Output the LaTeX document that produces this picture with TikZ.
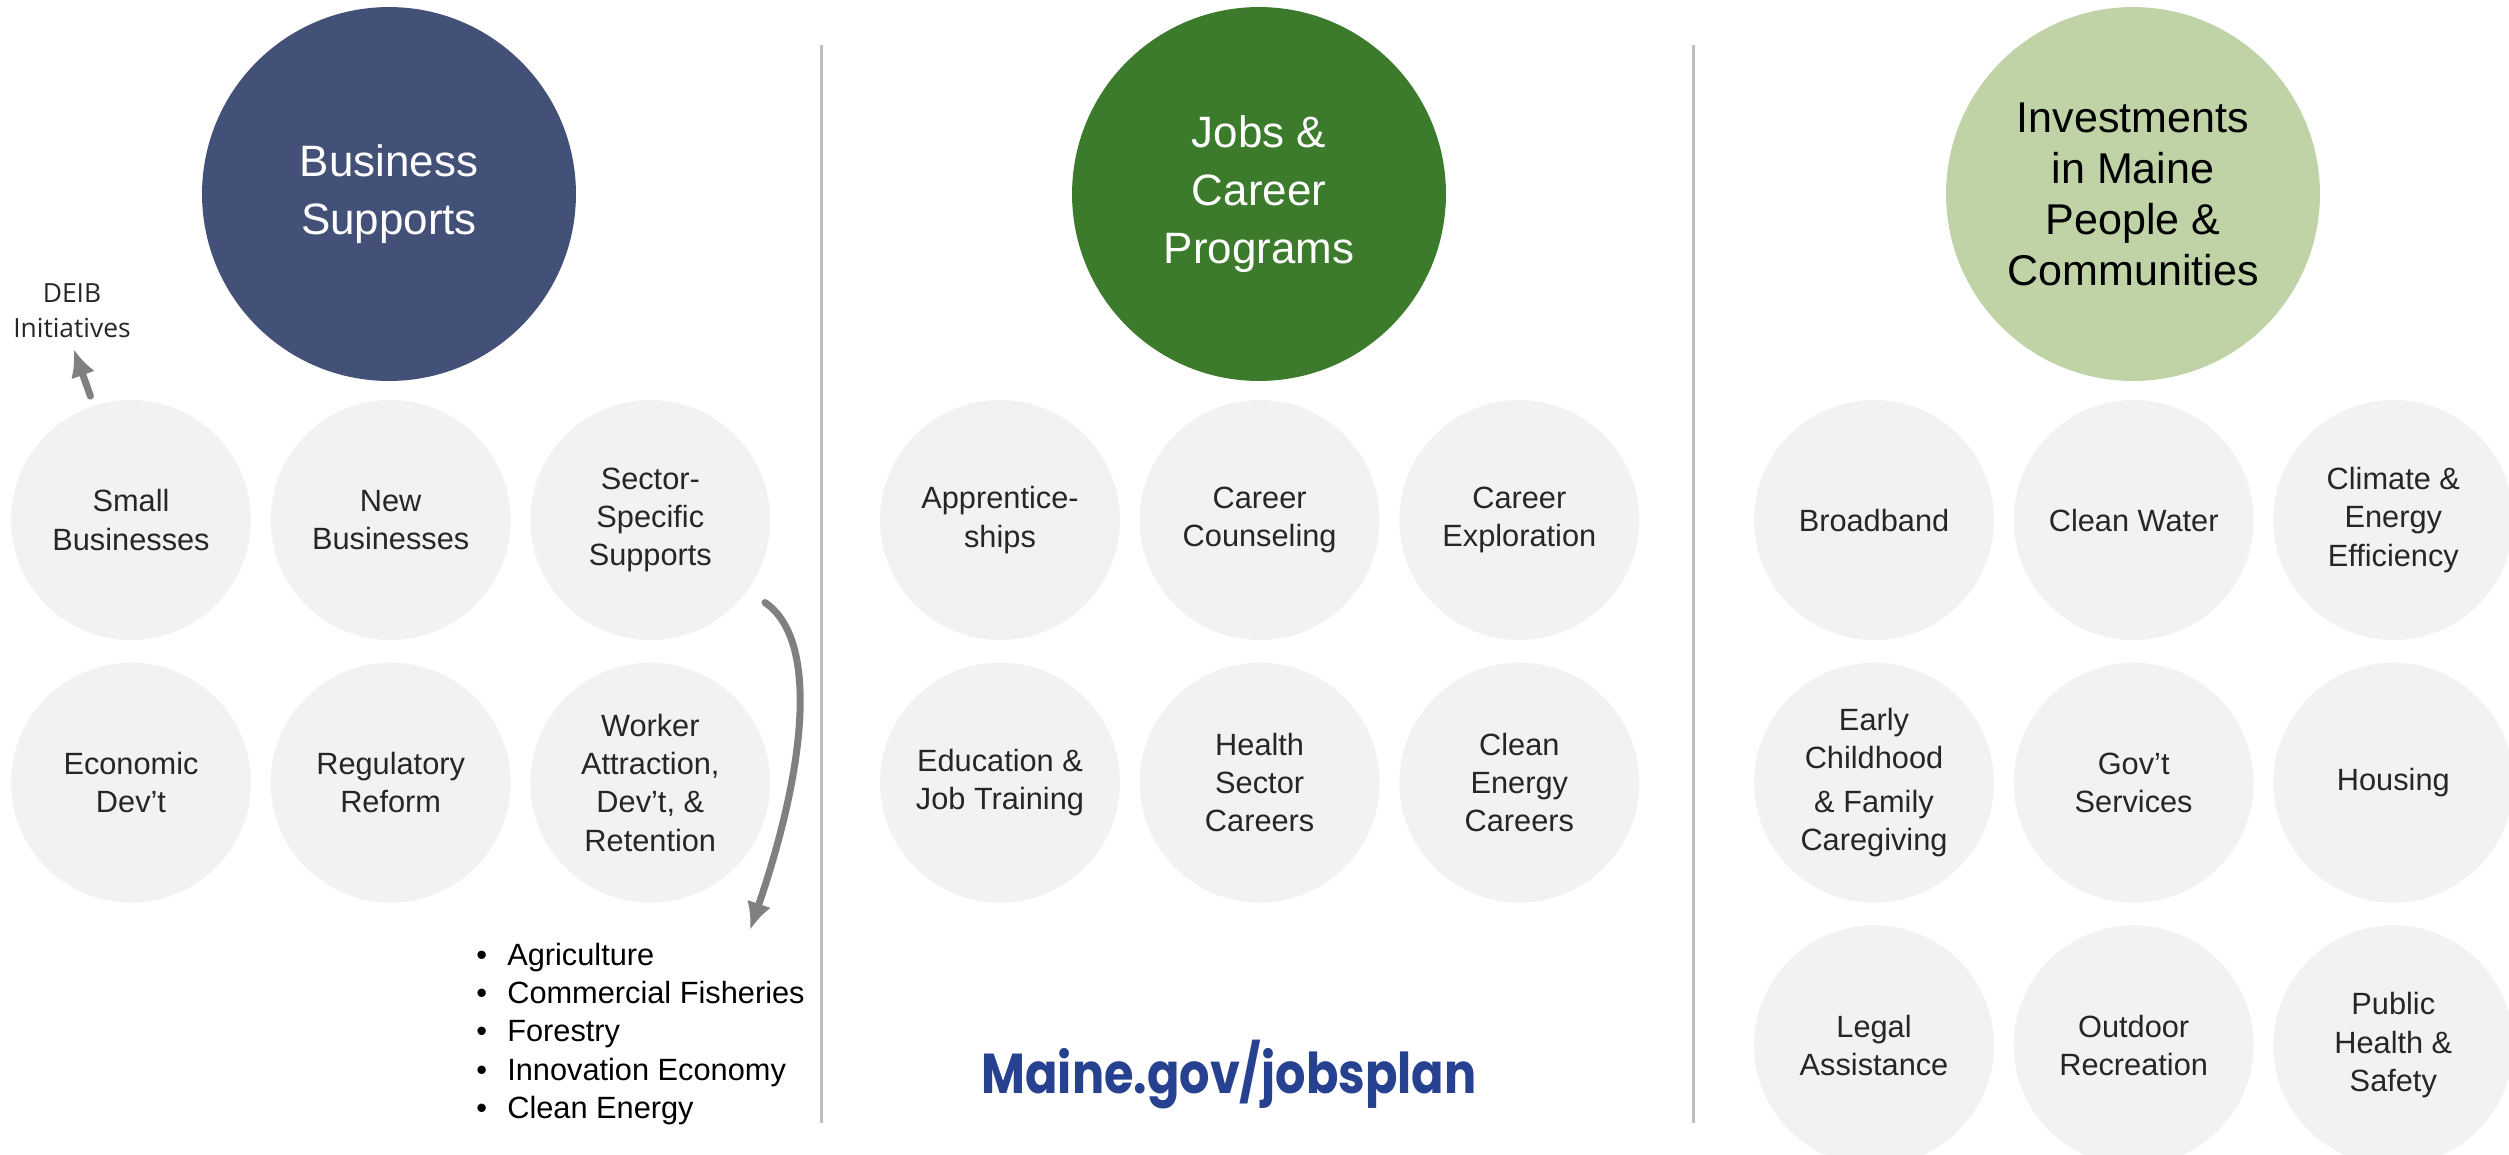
\documentclass[tikz,border=0pt]{standalone}
\usepackage{fontspec}
\setmainfont{Liberation Sans}
\newfontfamily\deibfont{Open Sans}
\newfontfamily\urlfont{Poppins}
\usepackage{xcolor}
\usepackage{graphicx}
\usetikzlibrary{positioning,arrows.meta}
\definecolor{bizblue}{HTML}{435078}
\definecolor{jobgreen}{HTML}{3C7A2C}
\definecolor{investgreen}{HTML}{C0D3A6}
\definecolor{itemgrey}{HTML}{F2F2F2}
\definecolor{itemtext}{HTML}{262626}
\definecolor{divgrey}{HTML}{BFBFBF}
\definecolor{arrowgrey}{HTML}{808080}
\definecolor{urlblue}{HTML}{26418F}

\begin{document}
\begin{tikzpicture}[x=0.02cm, y=-0.02cm, node distance=0.44cm and 0.38cm,%
        bigcirc/.style={circle, minimum size=7.48cm, inner sep=0pt, align=center, font=\fontsize{25}{33}\selectfont},
        item/.style={circle, fill=itemgrey, minimum size=4.8cm, inner sep=0pt, align=center, text=itemtext, font=\fontsize{17.5}{21.8}\selectfont},
        divider/.style={draw=divgrey, line width=1.7pt},
        greyarrow/.style={draw=arrowgrey, line width=4pt, line cap=round, -{Latex[length=0.55cm, width=0.5cm]}}]
        \useasboundingbox (0,0) rectangle (2509,1154);
        \clip (0,0) rectangle (2509,1154);

        % business supports
        \node[bigcirc, fill=bizblue, text=white] (biz) at (389,194) {Business\\Supports};
        \node[item] (small) at (131,520) {Small\\Businesses};
        \node[item, right=of small] (newbiz) {New\\Businesses};
        \node[item, right=of newbiz] (sector) {Sector-\\Specific\\Supports};
        \node[item, below=of small] (econ) {Economic\\Dev’t};
        \node[item, right=of econ] (reform) {Regulatory\\Reform};
        \node[item, right=of reform] (worker) {Worker\\Attraction,\\Dev’t, \&\\Retention};
        \node[font=\deibfont\fontsize{15}{20}\selectfont, text=itemtext, align=center] (deib) at (72,311) {DEIB\\Initiatives};
        \node[anchor=west, align=left, inner sep=0pt, font=\fontsize{17.5}{21.8}\selectfont] (sectors) at (476,1034)
                {\makebox[0.62cm][l]{\textbullet}Agriculture\\
                 \makebox[0.62cm][l]{\textbullet}Commercial Fisheries\\
                 \makebox[0.62cm][l]{\textbullet}Forestry\\
                 \makebox[0.62cm][l]{\textbullet}Innovation Economy\\
                 \makebox[0.62cm][l]{\textbullet}Clean Energy};
        \coordinate (sectortip) at (750,930);
        \draw[greyarrow, shorten <=0.2cm, shorten >=0.1cm] (small.108) -- (deib.south);
        \draw[greyarrow, shorten <=0.42cm] (sector.-36) .. controls (820,640) and (805,770) .. (sectortip);

        % jobs and careers
        \node[bigcirc, fill=jobgreen, text=white] (jobs) at (1259,194) {Jobs \&\\Career\\Programs};
        \node[item] (appr) at (1000,520) {Apprentice-\\ships};
        \node[item, right=of appr] (couns) {Career\\Counseling};
        \node[item, right=of couns] (explore) {Career\\Exploration};
        \node[item, below=of appr] (edu) {Education \&\\Job Training};
        \node[item, right=of edu] (health) {Health\\Sector\\Careers};
        \node[item, right=of health] (cleancar) {Clean\\Energy\\Careers};
        \node[font=\urlfont\bfseries\fontsize{32}{38}\selectfont, text=urlblue] (url) at (1229,1075) {\scalebox{0.85}[1]{Maine.gov/jobsplan}};

        % investments
        \node[bigcirc, fill=investgreen, text=black, font=\fontsize{24.5}{29}\selectfont] (invest) at (2133,194) {Investments\\in Maine\\People \&\\Communities};
        \node[item] (broad) at (1874,520) {Broadband};
        \node[item, right=of broad] (water) {Clean Water};
        \node[item, right=of water] (climate) {Climate \&\\Energy\\Efficiency};
        \node[item, below=of broad] (child) {Early\\Childhood\\[3pt]\& Family\\Caregiving};
        \node[item, right=of child] (gov) {Gov’t\\Services};
        \node[item, right=of gov] (housing) {Housing};
        \node[item, below=of child] (legal) {Legal\\Assistance};
        \node[item, right=of legal] (outdoor) {Outdoor\\Recreation};
        \node[item, right=of outdoor] (public) {Public\\Health \&\\Safety};

        % dividers
        \draw[divider] (821,45) -- (821,1123);
        \draw[divider] (1693,45) -- (1693,1123);
\end{tikzpicture}
\end{document}
